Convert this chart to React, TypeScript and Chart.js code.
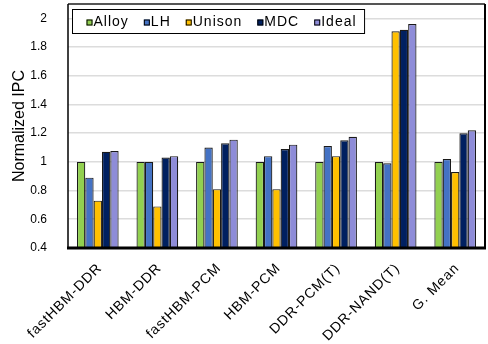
import React, { useEffect, useRef } from "react";
import { Chart, registerables } from "chart.js";

Chart.register(...registerables);

const categories = [
  "fastHBM-DDR",
  "HBM-DDR",
  "fastHBM-PCM",
  "HBM-PCM",
  "DDR-PCM(T)",
  "DDR-NAND(T)",
  "G. Mean",
];

const seriesNames = ["Alloy", "LH", "Unison", "MDC", "Ideal"];

const alloy = [1.0, 1.0, 1.0, 1.0, 1.0, 1.0, 1.0];
const lh = [0.89, 1.0, 1.1, 1.04, 1.11, 0.99, 1.02];
const unison = [0.73, 0.69, 0.81, 0.81, 1.04, 1.91, 0.93];
const mdc = [1.07, 1.03, 1.13, 1.09, 1.15, 1.92, 1.2];
const ideal = [1.075, 1.04, 1.155, 1.12, 1.175, 1.96, 1.22];

const colors = ["#92D050", "#4472C4", "#FFC000", "#002060", "#8E8CD8"];

const yTicks = [0.4, 0.6, 0.8, 1.0, 1.2, 1.4, 1.6, 1.8, 2.0];

const FONT = "'Liberation Sans', Arial, sans-serif";

// Legend box drawn inside the plot area, top-left
const insideLegend = {
  id: "insideLegend",
  afterDatasetsDraw(chart: any) {
    const ctx = chart.ctx;
    const area = chart.chartArea;
    const x0 = area.left + 4.5;
    const y0 = 9.5;
    const h = 24;
    ctx.save();
    ctx.font = `14px ${FONT}`;
    (ctx as any).letterSpacing = "1px";
    ctx.textBaseline = "middle";
    const box = 6;
    const gapText = 1;
    const gapItem = 15;
    let x = x0 + 14;
    const items = chart.data.datasets.map((ds: any) => {
      const w = ctx.measureText(ds.label).width;
      const item = { x, label: ds.label, color: ds.backgroundColor };
      x += box + gapText + w + gapItem;
      return item;
    });
    const x1 = x - gapItem + 8;
    ctx.fillStyle = "#fff";
    ctx.fillRect(x0, y0, x1 - x0, h);
    ctx.strokeStyle = "#000";
    ctx.lineWidth = 1;
    ctx.strokeRect(x0, y0, x1 - x0, h);
    const cy = y0 + h / 2 + 1;
    items.forEach((it: any) => {
      ctx.fillStyle = it.color;
      ctx.fillRect(it.x, cy - box / 2, box, box);
      ctx.strokeStyle = "#000";
      ctx.strokeRect(it.x + 0.5, cy - box / 2 + 0.5, box - 1, box - 1);
      ctx.fillStyle = "#000";
      ctx.fillText(it.label, it.x + box + gapText, cy);
    });
    ctx.restore();
  },
};

// Rotated category labels under the x axis
const slantedLabels = {
  id: "slantedLabels",
  afterDraw(chart: any) {
    const ctx = chart.ctx;
    const xs = chart.scales.x;
    const y = chart.chartArea.bottom + 18;
    ctx.save();
    ctx.font = `14px ${FONT}`;
    (ctx as any).letterSpacing = "0.9px";
    ctx.fillStyle = "#000";
    ctx.textAlign = "right";
    ctx.textBaseline = "middle";
    chart.data.labels.forEach((label: string, i: number) => {
      const x = xs.getPixelForTick(i) + 2;
      ctx.save();
      ctx.translate(x, y);
      ctx.rotate(-Math.PI / 4);
      ctx.fillText(label, 0, 0);
      ctx.restore();
    });
    ctx.restore();
  },
};

// Frame around the plot area
const plotFrame = {
  id: "plotFrame",
  afterDatasetsDraw(chart: any) {
    const ctx = chart.ctx;
    const { left, right, top, bottom } = chart.chartArea;
    ctx.save();
    ctx.strokeStyle = "#555";
    ctx.lineWidth = 2;
    ctx.beginPath();
    ctx.moveTo(left, top);
    ctx.lineTo(right, top);
    ctx.stroke();
    ctx.strokeStyle = "#000";
    ctx.lineWidth = 2;
    ctx.beginPath();
    ctx.moveTo(right, top);
    ctx.lineTo(right, bottom);
    ctx.stroke();
    ctx.lineWidth = 1.5;
    ctx.beginPath();
    ctx.moveTo(left, top);
    ctx.lineTo(left, bottom);
    ctx.stroke();
    ctx.lineWidth = 3;
    ctx.beginPath();
    ctx.moveTo(left - 1, bottom);
    ctx.lineTo(right + 1, bottom);
    ctx.stroke();
    ctx.restore();
  },
};

export default function App() {
  const canvasRef = useRef<HTMLCanvasElement | null>(null);

  useEffect(() => {
    const canvas = canvasRef.current;
    if (!canvas) return;
    const seriesValues = [alloy, lh, unison, mdc, ideal];
    const chart = new Chart(canvas, {
      type: "bar",
      data: {
        labels: categories,
        datasets: seriesNames.map((name, i) => ({
          label: name,
          data: seriesValues[i],
          backgroundColor: colors[i],
          borderColor: "#1a1a1a",
          borderWidth: 1.2,
          categoryPercentage: 0.7,
          barPercentage: 1.0,
        })),
      },
      options: {
        animation: false,
        responsive: false,
        maintainAspectRatio: false,
        layout: { padding: { top: 4, right: 3, left: 0, bottom: 0 } },
        plugins: {
          legend: { display: false },
          tooltip: { enabled: false },
        },
        scales: {
          x: {
            type: "category",
            offset: true,
            grid: { display: false, drawTicks: false },
            border: { display: false },
            ticks: { display: false },
            afterFit(scale: any) {
              scale.height = 96;
              scale.paddingLeft = 0;
              scale.paddingRight = 0;
            },
          },
          y: {
            type: "linear",
            min: 0.4,
            max: 2.1,
            grid: {
              color: "#dcdcdc",
              lineWidth: 1.6,
              drawTicks: true,
              tickLength: 20,
              tickColor: "rgba(0,0,0,0)",
            },
            border: { display: false },
            ticks: {
              stepSize: 0.2,
              padding: 1,
              color: "#000",
              font: { family: FONT, size: 12 },
              callback: (v: any) => String(Number(Number(v).toFixed(1))),
            },
            afterBuildTicks(scale: any) {
              scale.ticks = yTicks.map((v) => ({ value: v }));
            },
            afterFit(scale: any) {
              scale.width = 68;
              scale.paddingTop = 0;
              scale.paddingBottom = 0;
            },
            title: {
              display: true,
              text: "Normalized IPC",
              color: "#000",
              font: { family: FONT, size: 16 },
              padding: { top: 10, bottom: 0 },
            },
          },
        },
      },
      plugins: [plotFrame, insideLegend, slantedLabels],
    });
    return () => chart.destroy();
  }, []);

  return (
    <div style={{ position: "fixed", left: 0, top: 0, width: 488, height: 344, background: "#fff" }}>
      <canvas ref={canvasRef} width={488} height={344} style={{ width: 488, height: 344 }} />
    </div>
  );
}
